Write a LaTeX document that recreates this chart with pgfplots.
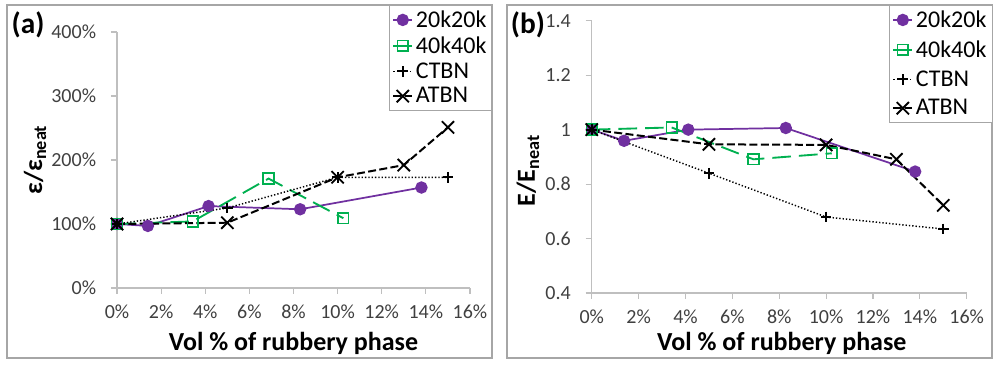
\documentclass[border=0pt]{standalone}
\usepackage{fontspec}
\setmainfont{Carlito}
\usepackage{pgfplots}
\pgfplotsset{compat=1.18}
\definecolor{cpurple}{HTML}{7030A0}
\definecolor{cgreen}{HTML}{00B050}
\definecolor{axgray}{HTML}{BFBFBF}
\definecolor{framegray}{HTML}{A6A6A6}
\definecolor{ticktext}{HTML}{404040}

\pgfplotsset{
 excel/.style={
  scale only axis, clip=false,
  axis lines=left, axis line style={-, axgray, line width=0.8pt},
  tick align=outside, major tick length=4.5pt,
  every tick/.style={axgray, line width=0.8pt},
  xmin=0, xmax=16, xtick={0,2,...,16},
  xticklabels={0\%,2\%,4\%,6\%,8\%,10\%,12\%,14\%,16\%},
  tick label style={font=\fontsize{15}{17}\selectfont, text=ticktext, inner sep=0pt},
  yticklabel style={anchor=east, xshift=-11pt},
  xticklabel style={anchor=north, yshift=-8pt},
  /pgf/number format/assume math mode=true,
  label style={font=\fontsize{19.5}{22}\selectfont\bfseries, inner sep=0pt},
  legend style={draw=framegray, fill=white, font=\fontsize{18}{20}\selectfont,
    inner sep=2pt, cells={anchor=west}},
  legend image code/.code={\draw[mark repeat=2,mark phase=2,##1] plot coordinates {(0cm,0cm) (0.25cm,0cm) (0.5cm,0cm)};},
 },
 s20/.style={cpurple, line width=1.3pt, mark=*, mark size=4pt, mark options={solid, fill=cpurple}},
 s40/.style={cgreen, line width=1.4pt, dash pattern=on 14pt off 6pt, mark=square, mark size=4pt, mark options={solid, line width=1.2pt}},
 sctbn/.style={black, line width=1.1pt, dash pattern=on 1pt off 1.5pt, mark=+, mark size=4pt, mark options={solid, line width=1.4pt}},
 satbn/.style={black, line width=1.5pt, dash pattern=on 6pt off 2.5pt, mark=x, mark size=6.5pt, mark options={solid, line width=1.4pt}},
}

\begin{document}
\begin{tikzpicture}
\useasboundingbox (0,0) rectangle (750pt,274.5pt);
\draw[framegray, line width=1pt] (5.25pt,6pt) rectangle (369pt,270.75pt);
\draw[framegray, line width=1pt] (380.25pt,6pt) rectangle (744pt,270.75pt);

% Panel (a)
\begin{axis}[excel,
  at={(87.75pt,58.5pt)}, anchor=south west,
  width=264.75pt, height=192pt,
  ymin=0, ymax=4, ytick={0,1,2,3,4},
  yticklabels={0\%,100\%,200\%,300\%,400\%},
  xlabel={Vol \% of rubbery phase},
  ylabel={ε/ε\textsubscript{neat}},
  xlabel style={at={(axis description cs:0.5,-0.215)}, anchor=center},
  ylabel style={at={(axis description cs:-0.232,0.5)}, anchor=center},
  legend style={at={(axis description cs:1.0623,1.1055)}, anchor=north east, row sep=1.5pt},
]
\addplot[s20] coordinates {(0,1.00) (1.4,0.97) (4.15,1.28) (8.3,1.23) (13.8,1.57)};
\addlegendentry{20k20k}
\addplot[s40] coordinates {(0,1.00) (3.43,1.04) (6.87,1.71) (10.26,1.09)};
\addlegendentry{40k40k}
\addplot[sctbn] coordinates {(0,1.00) (5.0,1.25) (10.0,1.73) (15.0,1.73)};
\addlegendentry{CTBN}
\addplot[satbn] coordinates {(0,1.00) (5.0,1.02) (10.0,1.73) (13.0,1.92) (15.0,2.51)};
\addlegendentry{ATBN}
\end{axis}

% Panel (b)
\begin{axis}[excel,
  at={(443.8pt,54.75pt)}, anchor=south west,
  width=281.25pt, height=204.2pt,
  ymin=0.4, ymax=1.4, ytick={0.4,0.6,0.8,1,1.2,1.4},
  yticklabels={0.4,0.6,0.8,1,1.2,1.4},
  xlabel={Vol \% of rubbery phase},
  ylabel={E/E\textsubscript{neat}},
  xlabel style={at={(axis description cs:0.507,-0.184)}, anchor=center},
  ylabel style={at={(axis description cs:-0.17,0.45)}, anchor=center},
  legend style={at={(axis description cs:1.0675,1.0577)}, anchor=north east, row sep=4.5pt},
]
\addplot[s20] coordinates {(0,1.0) (1.38,0.959) (4.12,1.0) (8.28,1.006) (13.8,0.846)};
\addlegendentry{20k20k}
\addplot[s40] coordinates {(0,1.0) (3.41,1.008) (6.9,0.891) (10.24,0.913)};
\addlegendentry{40k40k}
\addplot[sctbn] coordinates {(0,1.0) (5.0,0.840) (10.0,0.679) (15.0,0.635)};
\addlegendentry{CTBN}
\addplot[satbn] coordinates {(0,1.0) (5.0,0.946) (10.0,0.944) (13.0,0.891) (15.0,0.722)};
\addlegendentry{ATBN}
\end{axis}

\node[font=\fontsize{22}{24}\selectfont\bfseries] at (21pt,255.75pt) {(a)};
\node[font=\fontsize{22}{24}\selectfont\bfseries] at (396pt,255.75pt) {(b)};
\end{tikzpicture}
\end{document}
